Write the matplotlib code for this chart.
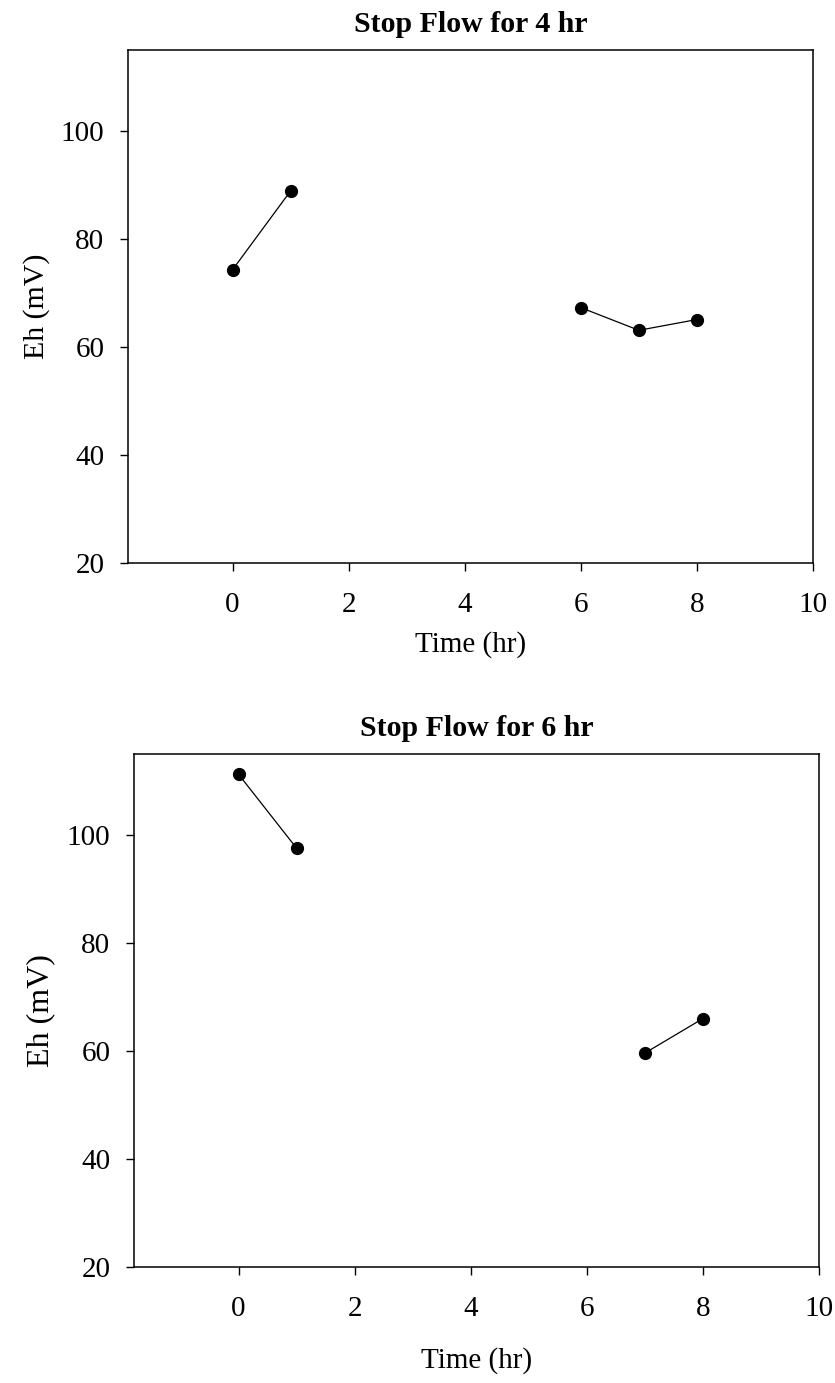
import numpy as np
import matplotlib
matplotlib.use('Agg')
import matplotlib.pyplot as plt

plt.rcParams['font.family'] = ['Liberation Serif', 'DejaVu Serif']

# Stop flow for 4 hr: two segments
t4_a = [0, 1]
eh4_a = [74.3, 88.9]
t4_b = [6, 7, 8]
eh4_b = [67.3, 63.1, 65.1]

# Stop flow for 6 hr
t6_a = [0, 1]
eh6_a = [111.3, 97.6]
t6_b = [7, 8]
eh6_b = [59.6, 66.0]

xticks = [0, 2, 4, 6, 8, 10]
yticks = [20, 40, 60, 80, 100]

fig = plt.figure(figsize=(8.35, 13.83), dpi=100)
ax1 = fig.add_axes([0.1533, 0.5929, 0.9737 - 0.1533, 0.9638 - 0.5929])
ax2 = fig.add_axes([0.1605, 0.0841, 0.9808 - 0.1605, 0.4546 - 0.0841])


def style(ax, title, labelpad, ylab_size):
    ax.set_xlim(-1.8, 10)
    ax.set_ylim(20, 115)
    ax.set_xticks(xticks)
    ax.set_yticks(yticks)
    ax.tick_params(direction='out', length=6, width=1, labelsize=21)
    ax.tick_params(axis='x', pad=15)
    ax.tick_params(axis='y', pad=11)
    for s in ax.spines.values():
        s.set_linewidth(1.1)
    ax.set_xlabel('Time (hr)', fontsize=21, labelpad=labelpad)
    ax.set_ylabel('Eh (mV)', fontsize=ylab_size, labelpad=8)
    ax.set_title(title, fontsize=21.5, fontweight='bold', pad=13)


kw = dict(color='black', marker='o', markersize=8.5, linewidth=0.9)
ax1.plot(t4_a, eh4_a, **kw)
ax1.plot(t4_b, eh4_b, **kw)
style(ax1, 'Stop Flow for 4 hr', 9, 21.5)

ax2.plot(t6_a, eh6_a, **kw)
ax2.plot(t6_b, eh6_b, **kw)
style(ax2, 'Stop Flow for 6 hr', 18, 23)

fig.savefig('out.png', dpi=100)
